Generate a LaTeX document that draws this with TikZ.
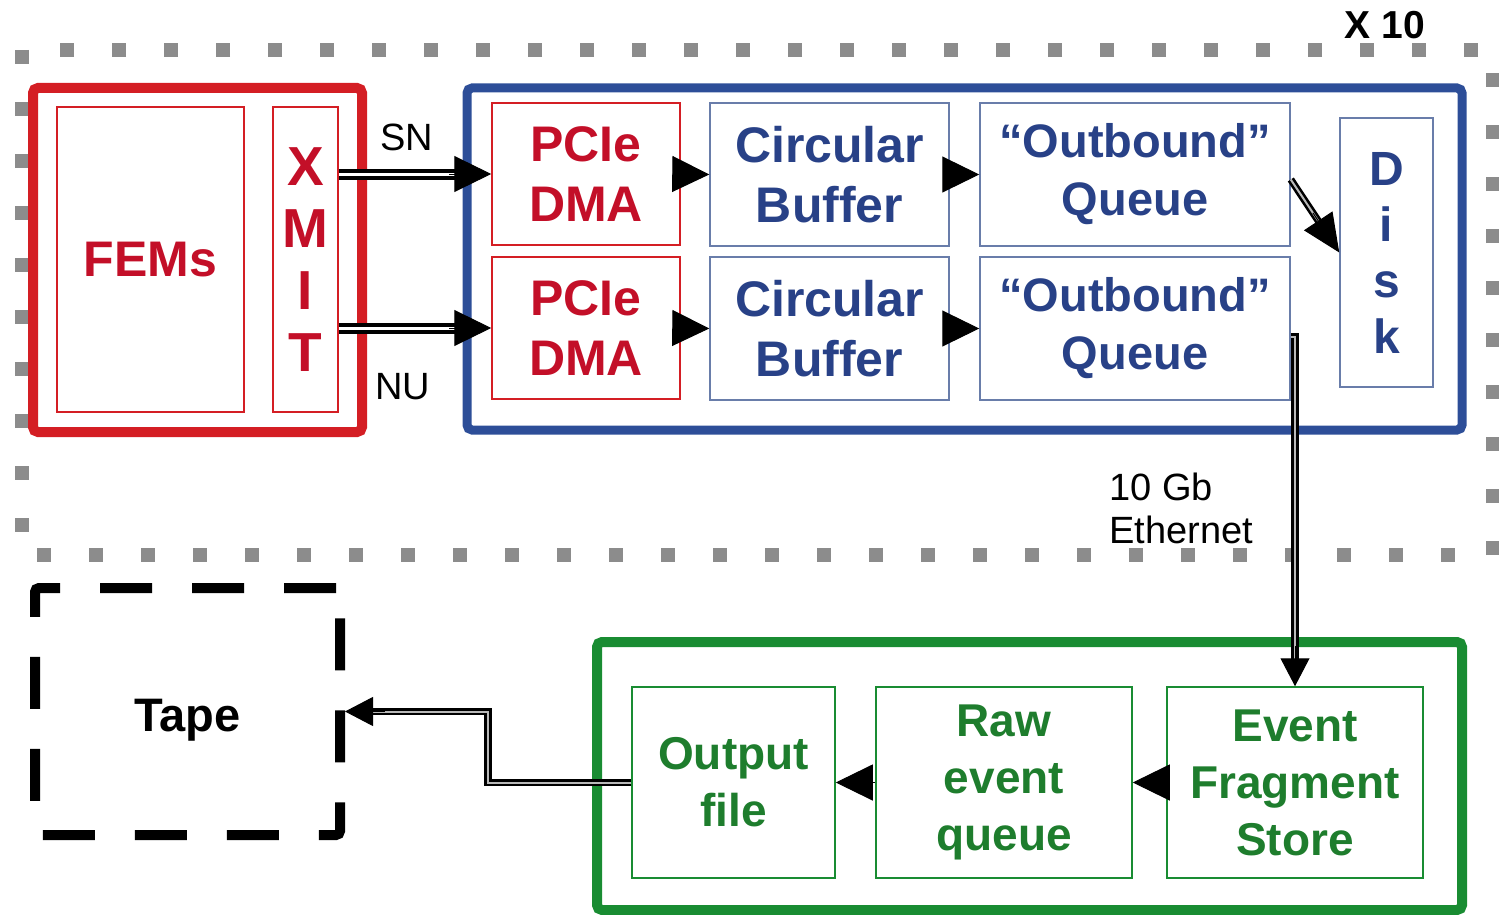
\documentclass[tikz,border=0pt]{standalone}
\usepackage{fontspec}
\setmainfont{Liberation Sans}
\usetikzlibrary{arrows.meta}
\definecolor{fred}{RGB}{212,30,36}
\definecolor{tred}{RGB}{195,15,40}
\definecolor{fblue}{RGB}{45,78,152}
\definecolor{tblue}{RGB}{40,65,135}
\definecolor{lblue}{RGB}{105,125,170}
\definecolor{fgreen}{RGB}{25,140,50}
\definecolor{tgreen}{RGB}{30,125,45}
\definecolor{dotgray}{RGB}{140,140,140}
\begin{document}
\begin{tikzpicture}[x=1pt,y=-1pt,
  box/.style={draw, line width=1.5pt, inner sep=0pt, align=center,
    font=\bfseries\fontsize{50}{60}\selectfont},
  redbox/.style={box, draw=fred, text=tred},
  bluebox/.style={box, draw=lblue, text=tblue},
  greenbox/.style={box, draw=fgreen, text=tgreen, font=\bfseries\fontsize{46}{57}\selectfont},
  frame/.style={inner sep=0pt, rounded corners=5pt},
  tipA/.style={-{Triangle[length=37pt,width=36pt]}, line width=1pt},
  tipB/.style={-{Triangle[length=28pt,width=29pt]}, line width=1pt},
  dblk/.style={draw=black, line width=4pt, double=white, double distance=3pt},
  dbgr/.style={draw=black, line width=2.6pt, double=gray!55, double distance=2pt},
  lbl/.style={font=\fontsize{38}{43}\selectfont},
]
\useasboundingbox (0,0) rectangle (1499,915);
% dotted x10 frame
\draw[dotgray, line width=14pt, dash pattern=on 14pt off 38pt] (22,50) rectangle (1493,555);
\node[font=\bfseries\fontsize{39}{45}\selectfont] (x10) at (1385,25) {X 10};

% red front-end block
\node[frame, draw=fred, line width=10pt, minimum width=329pt, minimum height=344pt] (febox) at (197.5,260) {};
\node[redbox, minimum width=187pt, minimum height=305pt] (fems) at (150.5,259.5) {FEMs};
\node[redbox, minimum width=65pt, minimum height=305pt, font=\bfseries\fontsize{55}{62}\selectfont] (xmit) at (305.5,259.5) {X\\M\\I\\T};

% blue block
\node[frame, draw=fblue, line width=9pt, minimum width=995pt, minimum height=342pt] (bluebox) at (964.5,259) {};
\node[redbox, minimum width=188pt, minimum height=142pt] (p1) at (586,174) {PCIe\\DMA};
\node[redbox, minimum width=188pt, minimum height=142pt] (p2) at (586,328) {PCIe\\DMA};
\node[bluebox, minimum width=239pt, minimum height=143pt] (c1) at (829.5,174.5) {Circular\\Buffer};
\node[bluebox, minimum width=239pt, minimum height=143pt] (c2) at (829.5,328.5) {Circular\\Buffer};
\node[bluebox, minimum width=310pt, minimum height=143pt, font=\bfseries\fontsize{47}{58}\selectfont] (o1) at (1135,174.5) {“Outbound”\\Queue};
\node[bluebox, minimum width=310pt, minimum height=143pt, font=\bfseries\fontsize{47}{58}\selectfont] (o2) at (1135,328.5) {“Outbound”\\Queue};
\node[bluebox, minimum width=93pt, minimum height=269pt, font=\bfseries\fontsize{48}{56}\selectfont] (disk) at (1386.5,252.5) {D\\i\\s\\k};

% green block
\node[frame, draw=fgreen, line width=10pt, minimum width=865pt, minimum height=268pt] (greenbox) at (1029.5,776) {};
\node[greenbox, minimum width=203pt, minimum height=191pt] (outf) at (733.5,782.5) {Output\\file};
\node[greenbox, minimum width=256pt, minimum height=191pt] (raw) at (1004,782.5) {Raw\\event\\queue};
\node[greenbox, minimum width=256pt, minimum height=191pt] (efs) at (1295,782.5) {Event\\Fragment\\Store};

% tape
\node[draw=black, line width=10pt, dash pattern=on 52pt off 40pt, rounded corners=4pt,
  minimum width=305pt, minimum height=247pt, inner sep=0pt, text height=45pt, text depth=5pt,
  font=\bfseries\fontsize{47}{56}\selectfont] (tape) at (187.5,711.5) {Tape};

% SN / NU links
\draw[dblk] (xmit.east |- p1.west) -- ([xshift=-30pt]p1.west);
\draw[tipA] ([xshift=-42pt]p1.west) -- (p1.west);
\draw[dblk] (xmit.east |- p2.west) -- ([xshift=-30pt]p2.west);
\draw[tipA] ([xshift=-42pt]p2.west) -- (p2.west);
\node[lbl] (sn) at (407,137) {SN};
\node[lbl] (nu) at (403,387) {NU};

% internal flow arrows
\draw[tipA] ([xshift=-8pt]p1.east) -- (c1.west);
\draw[tipA] ([xshift=-8pt]p2.east) -- (c2.west);
\draw[tipA] ([xshift=-6pt]c1.east) -- (o1.west);
\draw[tipA] ([xshift=-6pt]c2.east) -- (o2.west);
\draw[tipA] ([xshift=3pt]efs.west) -- (raw.east);
\draw[tipA] (raw.west) -- (outf.east);

% outbound -> disk
\draw[dbgr, shorten >=30pt] ([yshift=-5pt]o1.east) -- (disk.west);
\draw[-{Triangle[length=38pt,width=34pt]}, line width=1pt, shorten <=40pt] ([yshift=-5pt]o1.east) -- (disk.west);

% 10 Gb ethernet
\draw[dbgr, shorten >=20pt] ([yshift=-8pt]o2.east) -| (efs.north);
\draw[tipB] ([yshift=40pt]efs.north) -- (efs.north);
\node[lbl, anchor=west, align=left] (eth) at (1106,508) {10 Gb\\Ethernet};

% output -> tape
\coordinate (tbend) at (488,0);
\draw[dbgr, shorten >=20pt] (outf.west) -- (tbend |- outf.west) |- (tape.east);
\draw[tipB] ([xshift=40pt]tape.east) -- (tape.east);
\end{tikzpicture}
\end{document}
